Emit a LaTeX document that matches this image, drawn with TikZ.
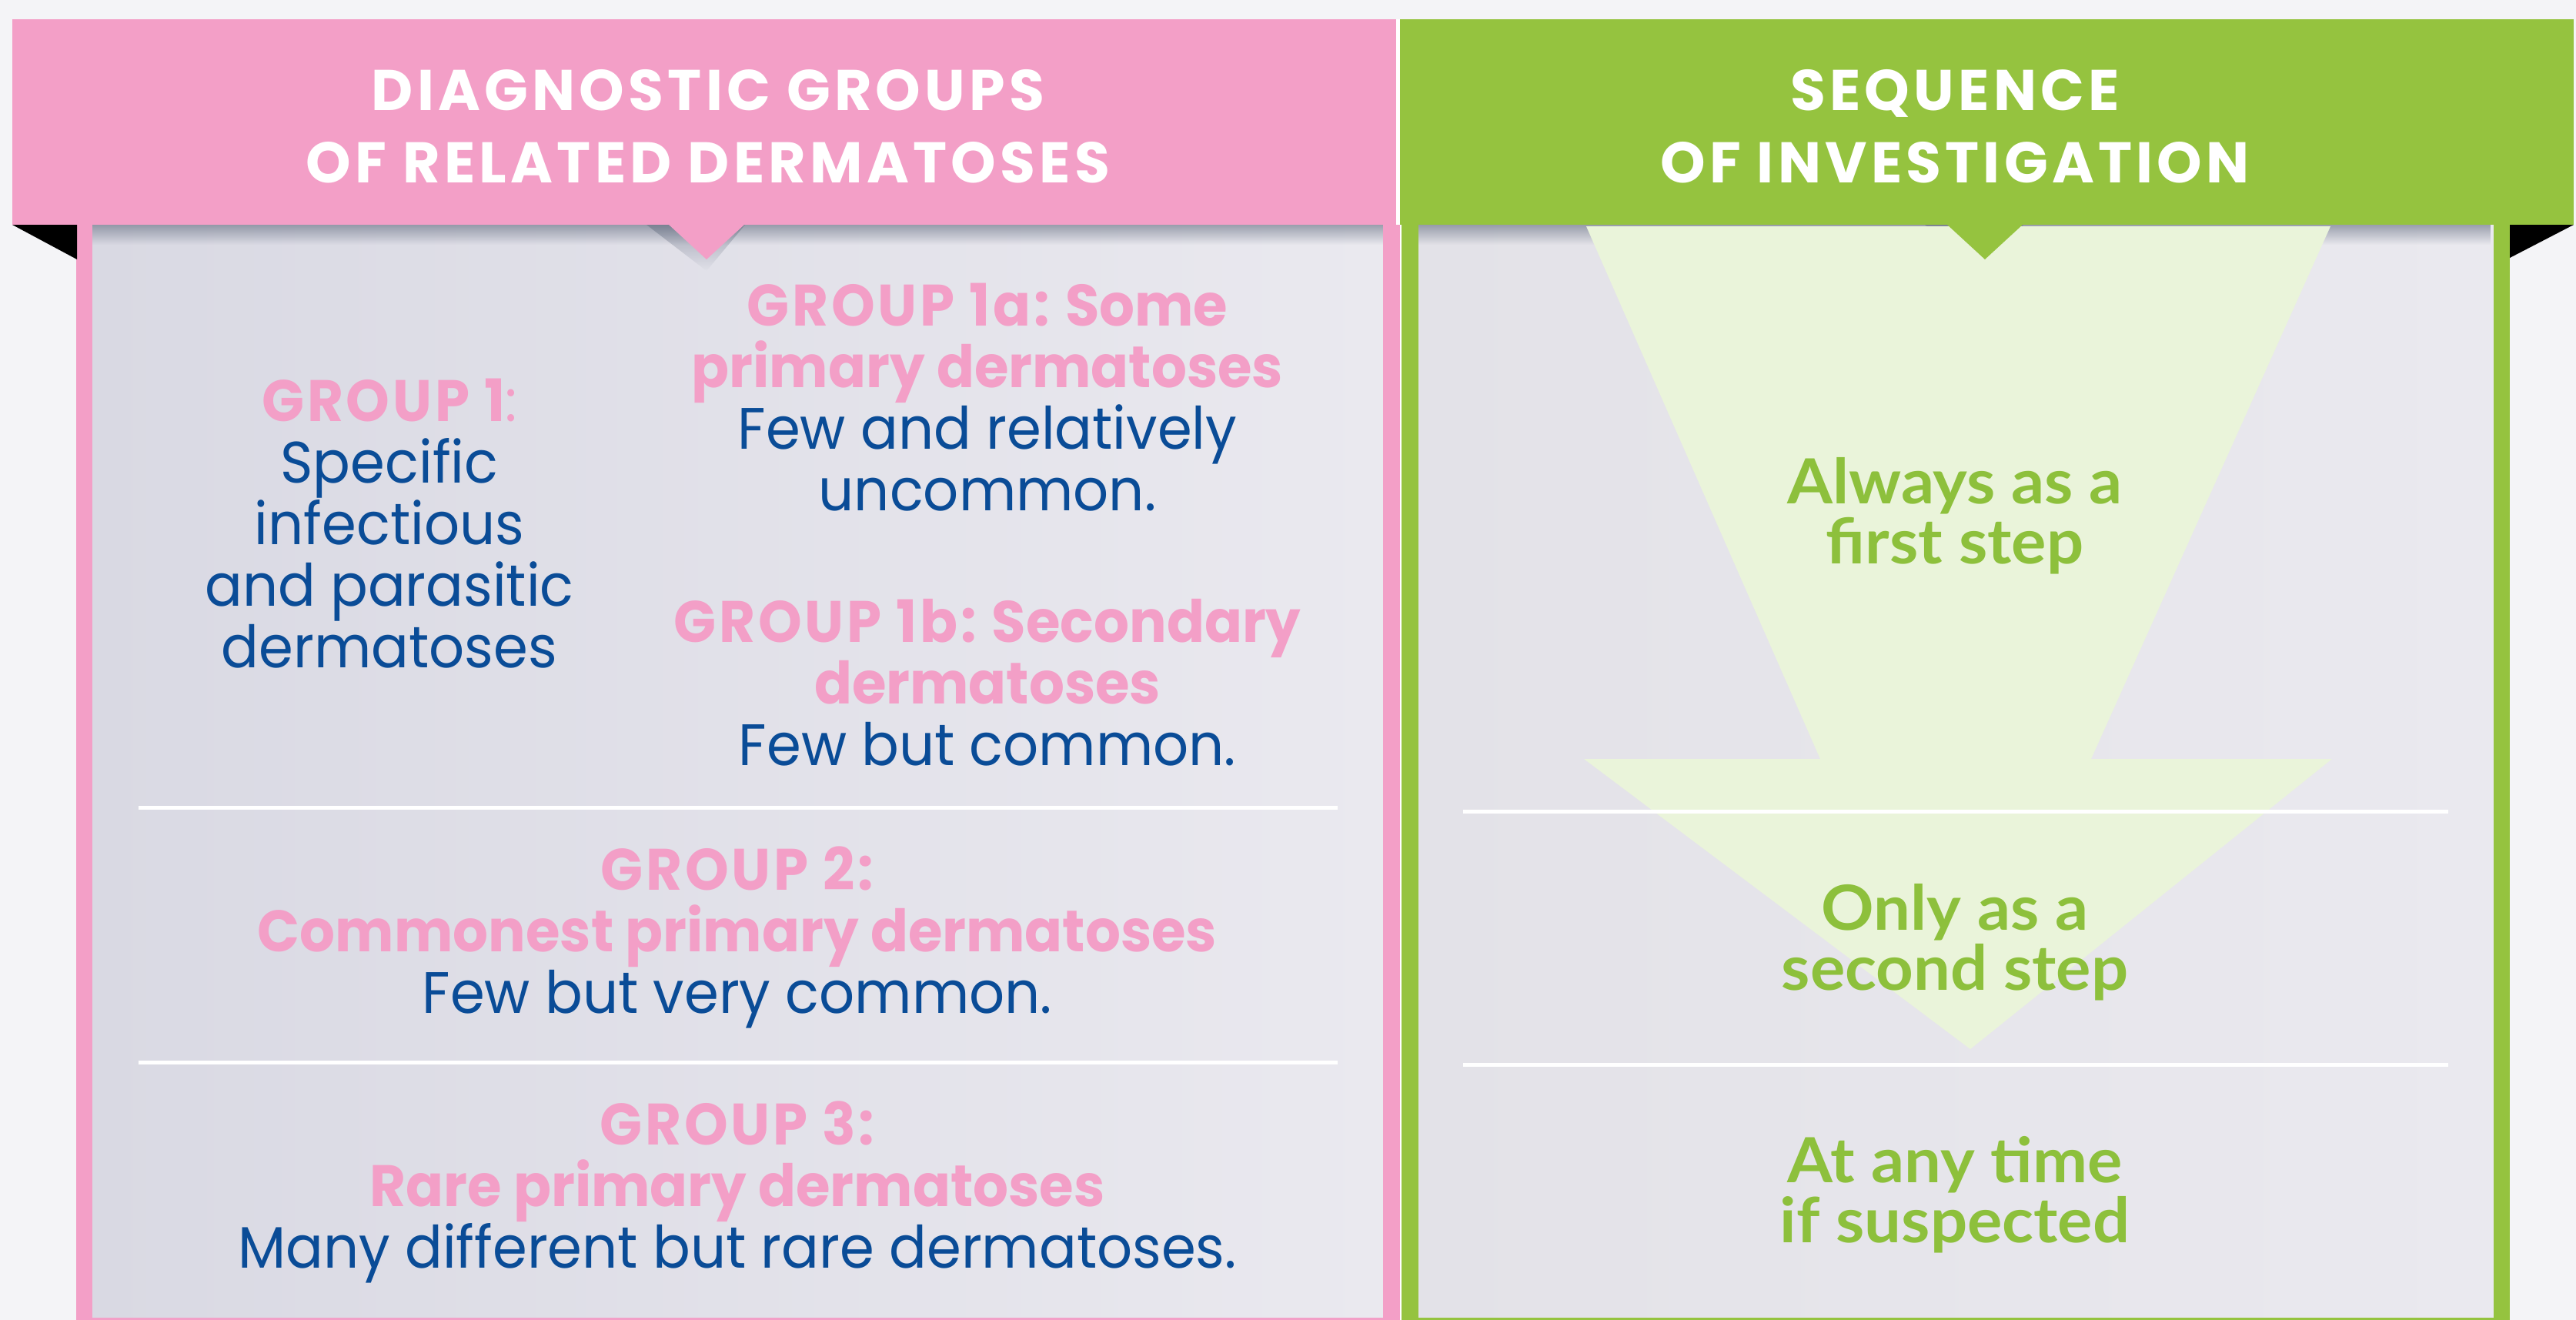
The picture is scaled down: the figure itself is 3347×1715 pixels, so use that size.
\documentclass[tikz,border=0pt]{standalone}
\usepackage{fontspec}
\setmainfont[FakeStretch=0.95]{Poppins}
\newfontfamily\headfont[LetterSpace=7]{Poppins}
\newfontfamily\greenfont[FakeStretch=1.05]{Lato}
\usetikzlibrary{fadings}
\definecolor{pinkc}{HTML}{F39FC7}
\definecolor{greenc}{HTML}{95C33F}
\definecolor{bluec}{HTML}{0A4C97}
\definecolor{arrowc}{HTML}{EAF4DA}
\definecolor{bgc}{HTML}{F4F4F7}
\definecolor{panelL}{HTML}{D9D9E3}
\definecolor{panelR}{HTML}{EAE9EF}
\definecolor{greentext}{HTML}{8DC03C}
\definecolor{shadowc}{HTML}{5A6478}
\newcommand\pk[1]{\textcolor{pinkc}{\bfseries #1}}
\newcommand\grp[1]{{\addfontfeatures{LetterSpace=5}#1}}
\tikzset{
  headtext/.style={align=center, inner sep=0pt, text=white, font=\headfont\fontsize{21.2}{26.7}\selectfont\bfseries},
  bodytext/.style={align=center, inner sep=0pt, text=bluec, font=\fontsize{21.6}{22.76}\selectfont},
  greentxt/.style={align=center, inner sep=0pt, text=greentext, font=\greenfont\fontsize{23}{22.3}\selectfont\bfseries},
  sepline/.style={white, line width=0.05cm},
  pinkfill/.style={fill=pinkc},
  greenfill/.style={fill=greenc}
}
\begin{document}
\begin{tikzpicture}[x=0.01cm,y=-0.01cm]
\useasboundingbox (0,0) rectangle (3347,1715);
\fill[bgc] (0,0) rectangle (3347,1715);
% panel interiors
\shade[left color=panelL, right color=panelR] (120,292) rectangle (1797,1712);
\shade[left color=panelR!97!black, right color=panelR] (1843,292) rectangle (3240,1712);
% header shadow
\fill[shadowc, opacity=0.55, path fading=south] (120,292) rectangle (3240,318);
\fill[shadowc, opacity=0.45, path fading=south] (840,292) -- (918,352) -- (968,292) -- cycle;
\fill[shadowc, opacity=0.45, path fading=south] (2501,292) -- (2579,352) -- (2629,292) -- cycle;
% funnel arrow
\fill[arrowc] (2061,294) -- (3028,294) -- (2717,986) -- (3030,986) -- (2560,1363) -- (2058,986) -- (2365,986) -- cycle;
% separator lines
\coordinate (la1) at (180,1049); \coordinate (lb1) at (1738,1049);
\coordinate (la2) at (180,1380); \coordinate (lb2) at (1738,1380);
\coordinate (ra1) at (1901,1054); \coordinate (rb1) at (3181,1054);
\coordinate (ra2) at (1901,1383); \coordinate (rb2) at (3181,1383);
\draw[sepline] (la1) -- (lb1);
\draw[sepline] (la2) -- (lb2);
\draw[sepline] (ra1) -- (rb1);
\draw[sepline] (ra2) -- (rb2);
% frames
\fill[white] (1797,25) rectangle (1843,1715);
\fill[pinkfill] (99,292) rectangle (120,1740);
\fill[pinkfill] (1797,292) rectangle (1819,1740);
\fill[pinkfill] (99,1712) rectangle (1819,1740);
\fill[greenfill] (1821,292) rectangle (1843,1740);
\fill[greenfill] (3240,292) rectangle (3261,1740);
\fill[greenfill] (1821,1712) rectangle (3261,1740);
% headers
\fill[pinkfill] (16,25) rectangle (1814,292);
\fill[pinkfill] (868,291) -- (918,337) -- (968,291) -- cycle;
\fill[greenfill] (1819,25) rectangle (3344,292);
\fill[greenfill] (2529,291) -- (2579,337) -- (2629,291) -- cycle;
% black folds
\fill[black] (16,292) -- (100,292) -- (100,337) -- cycle;
\fill[black] (3261,292) -- (3344,292) -- (3261,335) -- cycle;
% header texts
\node[headtext] (hl) at (920,164) {DIAGNOSTIC GROUPS\\OF RELATED DERMATOSES};
\node[headtext] (hr) at (2540,164) {SEQUENCE\\OF INVESTIGATION};
% left panel texts
\node[bodytext] (g1) at (506,680) {\pk{\grp{GROUP 1}}\textcolor{pinkc}{:}\\Specific\\infectious\\and parasitic\\dermatoses};
\node[bodytext] (g1a) at (1283,516) {\pk{\grp{GROUP 1a:} Some}\\\pk{primary dermatoses}\\Few and relatively\\uncommon.};
\node[bodytext] (g1b) at (1283,887) {\pk{\grp{GROUP 1b:} Secondary}\\\pk{dermatoses}\\Few but common.};
\node[bodytext] (g2) at (958,1218) {\pk{\grp{GROUP 2:}}\\\pk{Commonest primary dermatoses}\\Few but very common.};
\node[bodytext] (g3) at (958,1549) {\pk{\grp{GROUP 3:}}\\\pk{Rare primary dermatoses}\\Many different but rare dermatoses.};
% right panel texts
\node[greentxt] (s1) at (2540,670) {Always as a\\first step};
\node[greentxt] (s2) at (2540,1224) {Only as a\\second step};
\node[greentxt] (s3) at (2540,1552) {At any time\\if suspected};
\end{tikzpicture}
\end{document}
